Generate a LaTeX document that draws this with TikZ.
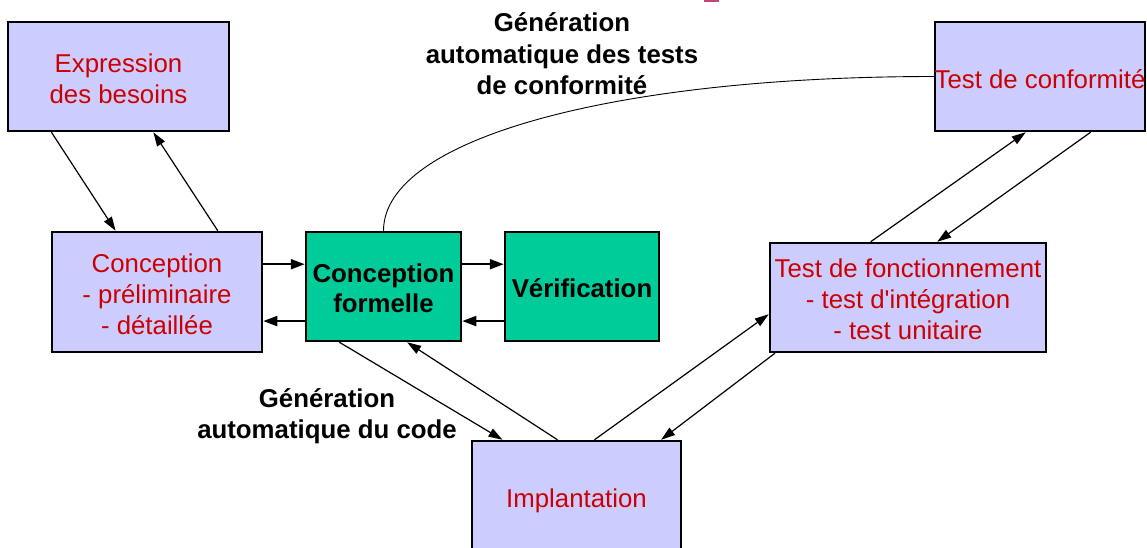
\documentclass[tikz,border=0pt]{standalone}
\usepackage{fontspec}
\newfontfamily\lsans{Liberation Sans}
\usetikzlibrary{arrows.meta,calc}
\definecolor{boxblue}{RGB}{204,204,255}
\definecolor{boxgreen}{RGB}{0,204,153}
\definecolor{txtred}{RGB}{204,0,0}
\definecolor{markpink}{RGB}{190,70,120}

\tikzset{
  phase/.style={draw=black, line width=2.5pt, fill=boxblue, inner sep=0pt},
  formal/.style={draw=black, line width=2.5pt, fill=boxgreen, inner sep=0pt},
  ptext/.style={align=center, inner sep=0pt, text=txtred, yshift=-2.5pt,
    font=\lsans\fontsize{25.8}{31}\selectfont},
  ftext/.style={align=center, inner sep=0pt, text=black, yshift=-1.5pt,
    font=\lsans\bfseries\fontsize{25.8}{30}\selectfont},
  lbl/.style={align=center, inner sep=0pt, text=black,
    font=\lsans\bfseries\fontsize{25.8}{31.5}\selectfont},
  diag/.style={line width=1.2pt, -{Triangle[length=14pt,width=9pt]}},
  horiz/.style={line width=2pt, -{Triangle[length=14pt,width=10pt]}},
  link/.style={line width=0.9pt},
}

\begin{document}
\begin{tikzpicture}[x=1pt,y=-1pt]
\useasboundingbox (0,0) rectangle (1147,547);
\clip (0,0) rectangle (1147,547);

\fill[markpink] (704,0) rectangle (719,2);

% development phases
\node[phase, minimum width=221pt, minimum height=109pt,
  label={[ptext]center:{Expression\\des besoins}}] (exp) at (118.5,76.5) {};
\node[phase, minimum width=210pt, minimum height=120pt,
  label={[ptext]center:{Conception\\- préliminaire\\- détaillée}}] (conc) at (157,292) {};
\node[formal, minimum width=155pt, minimum height=109pt,
  label={[ftext]center:{Conception\\formelle}}] (cf) at (383.5,286.5) {};
\node[formal, minimum width=154pt, minimum height=109pt,
  label={[ftext]center:{Vérification}}] (ver) at (582,286.5) {};
\node[phase, minimum width=210pt, minimum height=109pt,
  label={[ptext]center:{Test de conformité}}] (tc) at (1040,76.5) {};
\node[phase, minimum width=276pt, minimum height=109pt,
  label={[ptext, yshift=1pt]center:{Test de fonctionnement\\- test d'intégration\\- test unitaire}}] (tf) at (908,297.5) {};
\node[phase, minimum width=209pt, minimum height=114pt,
  label={[ptext]center:{Implantation}}] (impl) at (576.5,498) {};

% labels
\node[lbl] (genTests) at (562,54) {Génération\\automatique des tests\\de conformité};
\node[lbl] (genCode) at (327,416) {Génération\\automatique du code};

% descending branch
\draw[diag] ($(exp.south west)!.2!(exp.south east)$) -- ($(conc.north west)!.305!(conc.north east)$);
\draw[diag] ($(conc.north west)!.786!(conc.north east)$) -- ($(exp.south west)!.656!(exp.south east)$);

% formal design loop
\coordinate (cfU) at ($(cf.north west)!.3!(cf.south west)$);
\coordinate (cfD) at ($(cf.north west)!.81!(cf.south west)$);
\draw[horiz] (conc.east |- cfU) -- (cfU);
\draw[horiz] (cfD) -- (conc.east |- cfD);
\draw[horiz] (cf.east |- cfU) -- (ver.west |- cfU);
\draw[horiz] (ver.west |- cfD) -- (cf.east |- cfD);

% implementation
\draw[diag] ($(cf.south west)!.22!(cf.south east)$) -- ($(impl.north west)!.15!(impl.north east)$);
\draw[diag] ($(impl.north west)!.41!(impl.north east)$) -- ($(cf.south west)!.65!(cf.south east)$);

% ascending branch
\draw[diag] ($(impl.north west)!.585!(impl.north east)$) -- ($(tf.north west)!.65!(tf.south west)$);
\draw[diag] ($(tf.south west)!.022!(tf.south east)$) -- ($(impl.north west)!.9!(impl.north east)$);
\draw[diag] ($(tf.north west)!.366!(tf.north east)$) -- ($(tc.south west)!.433!(tc.south east)$);
\draw[diag] ($(tc.south west)!.738!(tc.south east)$) -- ($(tf.north west)!.605!(tf.north east)$);

% test generation link
\draw[link] (cf.north) .. controls +(0,-92) and +(-320,0) .. (tc.west);
\end{tikzpicture}
\end{document}
